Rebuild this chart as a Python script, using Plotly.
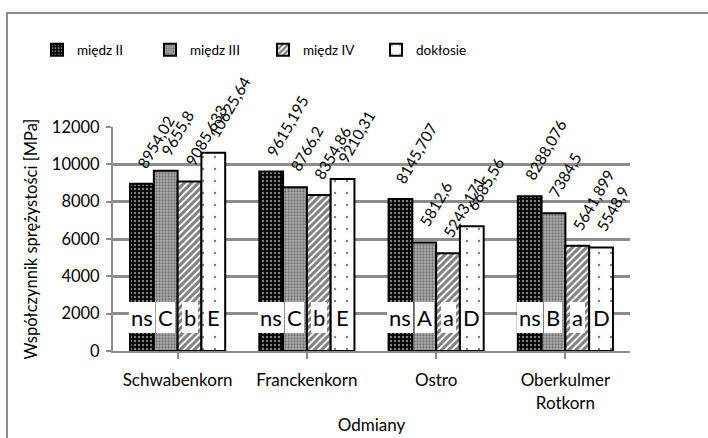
import plotly.graph_objects as go

categories = ["Schwabenkorn", "Franckenkorn", "Ostro", "Oberkulmer<br>Rotkorn"]
series_names = ["międz II", "międz III", "międz IV", "dokłosie"]
v_miedz2 = [8954.02, 9615.195, 8145.707, 8288.076]
v_miedz3 = [9655.8, 8766.2, 5812.6, 7384.5]
v_miedz4 = [9085.633, 8354.86, 5243.171, 5641.899]
v_doklosie = [10625.64, 9210.31, 6685.56, 5548.9]
lab_miedz2 = ["8954,02", "9615,195", "8145,707", "8288,076"]
lab_miedz3 = ["9655,8", "8766,2", "5812,6", "7384,5"]
lab_miedz4 = ["9085,633", "8354,86", "5243,171", "5641,899"]
lab_doklosie = ["10625,64", "9210,31", "6685,56", "5548,9"]
let_miedz2 = ["ns", "ns", "ns", "ns"]
let_miedz3 = ["C", "C", "A", "B"]
let_miedz4 = ["b", "b", "a", "a"]
let_doklosie = ["E", "E", "D", "D"]
letter_y = 1800
y_ticks = [0, 2000, 4000, 6000, 8000, 10000, 12000]

values = [v_miedz2, v_miedz3, v_miedz4, v_doklosie]
labels = [lab_miedz2, lab_miedz3, lab_miedz4, lab_doklosie]
letters = [let_miedz2, let_miedz3, let_miedz4, let_doklosie]

patterns = [
    dict(shape=".", bgcolor="black", fgcolor="white", size=4, solidity=0.3),
    dict(shape=".", bgcolor="#b0b0b0", fgcolor="#303030", size=3, solidity=0.45),
    dict(shape="/", bgcolor="white", fgcolor="black", size=5, solidity=0.6),
    dict(shape=".", bgcolor="white", fgcolor="black", size=12, solidity=0.03),
]
base_colors = ["black", "#888888", "white", "white"]

FONT = "Lato"
fig = go.Figure()
xi = list(range(len(categories)))
for j in range(4):
    fig.add_trace(go.Bar(
        x=xi, y=values[j], name=series_names[j],
        marker=dict(color=base_colors[j], pattern=patterns[j],
                    line=dict(color="black", width=2)),
    ))

bargap = 0.264
bw = (1 - bargap) / 4
ann = []
for j in range(4):
    for i in xi:
        xc = i + (j - 1.5) * bw
        ann.append(dict(x=xc, y=values[j][i], xref="x", yref="y",
                        text=labels[j][i], textangle=-60, showarrow=False,
                        xanchor="left", yanchor="bottom", xshift=-11, yshift=10,
                        font=dict(family=FONT, size=15.5, color="black")))
        ann.append(dict(x=xc, y=letter_y, xref="x", yref="y",
                        text=letters[j][i], showarrow=False,
                        bgcolor="white", borderpad=2, borderwidth=0,
                        font=dict(family=FONT, size=22, color="black")))

fig.update_layout(
    width=708, height=438,
    margin=dict(l=113, r=78, t=127, b=87),
    paper_bgcolor="white", plot_bgcolor="white",
    barmode="group", bargap=bargap, bargroupgap=0,
    font=dict(family=FONT, color="black"),
    annotations=ann,
    legend=dict(orientation="h", x=-0.147, xanchor="left", y=1.344, yanchor="middle",
                entrywidth=68, font=dict(family=FONT, size=13.5), traceorder="normal"),
    shapes=[dict(type="rect", xref="paper", yref="paper",
                 x0=(7 - 113) / 517, x1=(730 - 113) / 517,
                 y0=-0.5, y1=1 + (127 - 13) / 224,
                 line=dict(color="#8c8c8c", width=2), fillcolor="rgba(0,0,0,0)", layer="below")],
)
fig.update_xaxes(
    tickmode="array", tickvals=xi, ticktext=categories, range=[-0.5, 3.5],
    showline=True, linecolor="#8c8c8c", linewidth=2,
    ticks="outside", ticklen=6, tickcolor="#8c8c8c", tickwidth=2,
    showgrid=False, ticklabelstandoff=7, automargin=False,
    tickfont=dict(family=FONT, size=17),
    title=dict(text="Odmiany", font=dict(family=FONT, size=17), standoff=8),
)
fig.update_yaxes(
    range=[0, 12000], tickvals=y_ticks, tickformat="d",
    showline=True, linecolor="#8c8c8c", linewidth=2,
    ticks="outside", ticklen=5, tickcolor="#8c8c8c", tickwidth=2,
    showgrid=True, gridcolor="#8c8c8c", gridwidth=2.5, zeroline=False,
    ticklabelstandoff=3, automargin=False,
    tickfont=dict(family=FONT, size=16.5),
    title=dict(text="Współczynnik sprężystości [MPa]", font=dict(family=FONT, size=16.5), standoff=10),
)
fig.write_html("out.html")
